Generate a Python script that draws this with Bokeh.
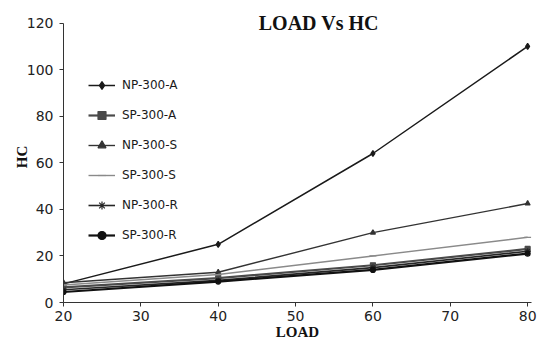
from bokeh.plotting import figure
from bokeh.models import Range1d, Label, Legend, LegendItem, FixedTicker
from bokeh.embed import file_html
from bokeh.resources import INLINE

load = [20, 40, 60, 80]
np_300_a = [8, 25, 64, 110]
sp_300_a = [6.5, 10.5, 16, 23]
np_300_s = [8.5, 13, 30, 42.5]
sp_300_s = [7.5, 12, 20, 28]
np_300_r = [5.5, 9.5, 15, 22]
sp_300_r = [4.5, 9, 14, 21]
x_ticks = [20, 30, 40, 50, 60, 70, 80]
y_ticks = [0, 20, 40, 60, 80, 100, 120]

p = figure(width=539, height=347, output_backend="svg", toolbar_location=None,
           x_range=Range1d(20, 80.5), y_range=Range1d(0, 125),
           min_border_left=63, min_border_right=8, min_border_top=11, min_border_bottom=45)
p.outline_line_color = None
p.grid.visible = False
p.background_fill_color = "white"

series = [
    ("NP-300-A", np_300_a, "#1a1a1a", 1.5, "diamond", 6),
    ("SP-300-A", sp_300_a, "#4a4a4a", 2.2, "square", 5),
    ("NP-300-S", np_300_s, "#333333", 1.4, "triangle", 5),
    ("SP-300-S", sp_300_s, "#8a8a8a", 1.4, "dash", 7),
    ("NP-300-R", np_300_r, "#262626", 1.6, "asterisk", 6),
    ("SP-300-R", sp_300_r, "#111111", 2.2, "circle", 5),
]
items = []
for name, ys, col, lw, mk, sz in series:
    r1 = p.line(load, ys, line_color=col, line_width=lw)
    r2 = p.scatter(load, ys, marker=mk, size=sz, fill_color=col, line_color=col, line_width=1.2)
    items.append(LegendItem(label=name, renderers=[r1, r2]))

legend = Legend(items=items, location=(25, 57), padding=0, margin=0, spacing=10,
                glyph_width=27, glyph_height=20, label_height=20, label_standoff=7,
                border_line_color=None, background_fill_alpha=0,
                label_text_font="DejaVu Sans", label_text_font_size="12px",
                label_text_color="#1a1a1a")
p.add_layout(legend, "center")

for ax in (p.xaxis[0], p.yaxis[0]):
    ax.axis_line_color = "#333333"
    ax.major_tick_line_color = "#333333"
    ax.minor_tick_line_color = None
    ax.major_tick_in = 0
    ax.major_tick_out = 4
    ax.major_label_text_font = "DejaVu Sans"
    ax.major_label_text_font_size = "14px"
    ax.major_label_text_color = "#222222"
    ax.axis_label_text_font = "Liberation Serif"
    ax.axis_label_text_font_style = "bold"
    ax.axis_label_text_font_size = "15px"
    ax.axis_label_text_color = "#111111"

p.yaxis.bounds = (0, 120)
p.xaxis.ticker = FixedTicker(ticks=x_ticks)
p.yaxis.ticker = FixedTicker(ticks=y_ticks)
p.xaxis.axis_label = "LOAD"
p.yaxis.axis_label = "HC"
p.xaxis.major_label_standoff = 4
p.xaxis.axis_label_standoff = 0
p.yaxis.major_label_standoff = 6
p.yaxis.axis_label_standoff = -6

title = Label(x=53, y=120, text="LOAD Vs HC", text_align="center", text_baseline="middle",
              text_font="Liberation Serif", text_font_style="bold", text_font_size="20px",
              text_color="#111111")
p.add_layout(title)

open("out.html", "w").write(file_html(p, INLINE))
